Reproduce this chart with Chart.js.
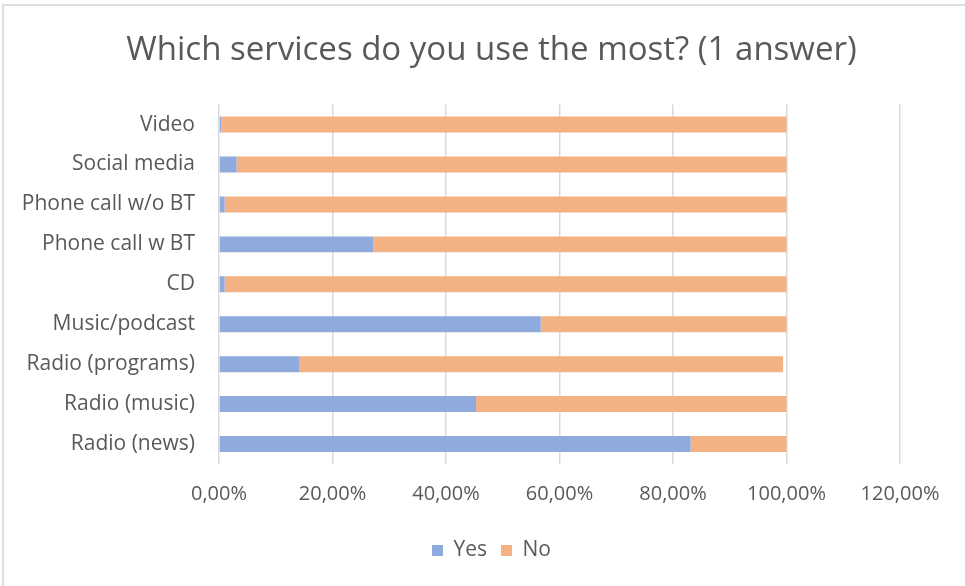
<!DOCTYPE html>
<html>
<head>
<meta charset="utf-8">
<script src="https://cdn.jsdelivr.net/npm/chart.js@4/dist/chart.umd.min.js"></script>
<style>
  html, body { margin: 0; padding: 0; background: #ffffff; }
  #wrap { position: relative; width: 965px; height: 586px; overflow: hidden; }
  #frame { position: absolute; left: 2px; top: 4px; right: -10px; bottom: -10px;
           border-top: 2px solid #dedede; border-left: 2px solid #dedede; }
  #c { position: absolute; left: 0; top: 0; }
</style>
</head>
<body>
<div id="wrap">
  <div id="frame"></div>
  <canvas id="c" width="965" height="586"></canvas>
</div>
<script>
// Services, listed from the top row down
const categories = [
  'Video',
  'Social media',
  'Phone call w/o BT',
  'Phone call w BT',
  'CD',
  'Music/podcast',
  'Radio (programs)',
  'Radio (music)',
  'Radio (news)'
];

// Share of respondents, in percent
const yesValues = [0.4, 3.1, 1.0, 27.2, 1.0, 56.7, 14.1, 45.3, 83.1];
const noValues  = [99.6, 96.9, 99.0, 72.8, 99.0, 43.3, 85.3, 54.7, 16.9];

// X axis ticks, in percent
const xTicks = [0, 20, 40, 60, 80, 100, 120];

const FONT = '"Open Sans", Lato, sans-serif';
const TEXT = '#595959';

const fmtPct = v => v.toFixed(2).replace('.', ',') + '%';

new Chart(document.getElementById('c'), {
  type: 'bar',
  data: {
    labels: categories,
    datasets: [
      { label: 'Yes', data: yesValues, backgroundColor: '#8faadc', borderWidth: 0 },
      { label: 'No',  data: noValues,  backgroundColor: '#f4b183', borderWidth: 0 }
    ]
  },
  options: {
    indexAxis: 'y',
    responsive: false,
    animation: false,
    layout: { padding: { left: 18, right: 0, top: 0, bottom: 15 } },
    datasets: { bar: { barPercentage: 0.4, categoryPercentage: 1.0 } },
    plugins: {
      title: {
        display: true,
        text: 'Which services do you use the most? (1 answer)',
        color: TEXT,
        font: { family: FONT, size: 33, weight: 'normal' },
        padding: { top: 31, bottom: 34 }
      },
      legend: {
        position: 'bottom',
        labels: {
          color: TEXT,
          font: { family: FONT, size: 21 },
          boxWidth: 11,
          boxHeight: 11,
          padding: 14
        }
      },
      tooltip: { enabled: false }
    },
    scales: {
      x: {
        stacked: true,
        min: 0,
        max: 120,
        afterBuildTicks: axis => { axis.ticks = xTicks.map(v => ({ value: v })); },
        afterFit: axis => { axis.height += 2; },
        ticks: {
          color: TEXT,
          font: { family: FONT, size: 20 },
          padding: 18,
          callback: v => fmtPct(v)
        },
        grid: { color: '#d9d9d9', lineWidth: 1.5, drawTicks: false },
        border: { display: false }
      },
      y: {
        stacked: true,
        afterFit: axis => { axis.width = 201; },
        ticks: {
          color: TEXT,
          font: { family: FONT, size: 21 },
          padding: 24
        },
        grid: { display: false, drawTicks: false },
        border: { display: false }
      },
      // empty strip on the right, leaving room for the last tick label
      yRight: {
        type: 'category',
        position: 'right',
        afterFit: axis => { axis.width = 65; },
        ticks: { display: false },
        grid: { display: false, drawTicks: false },
        border: { display: false }
      }
    }
  }
});
</script>
</body>
</html>
